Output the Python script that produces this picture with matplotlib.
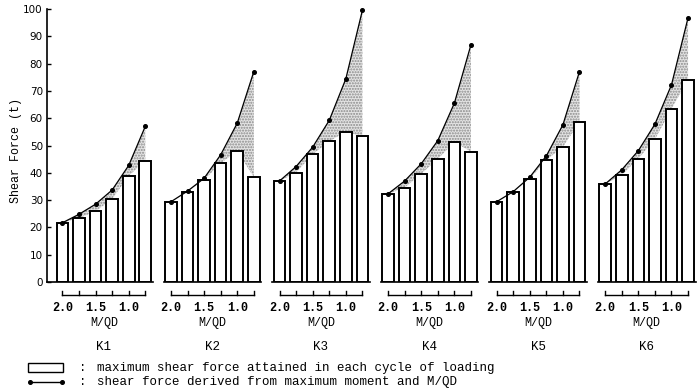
import matplotlib.pyplot as plt

# values (t)
specimens = ["K1", "K2", "K3", "K4", "K5", "K6"]
mqd_labels = ["2.0", "1.5", "1.0"]
bar_k1 = [21.7, 23.4, 25.9, 30.4, 38.9, 44.5]
bar_k2 = [29.4, 33.1, 37.4, 43.5, 48.0, 38.4]
bar_k3 = [37.0, 40.1, 46.8, 51.5, 55.1, 53.3]
bar_k4 = [32.3, 34.6, 39.6, 45.1, 51.2, 47.8]
bar_k5 = [29.4, 33.1, 37.8, 44.7, 49.5, 58.6]
bar_k6 = [35.9, 39.2, 45.2, 52.3, 63.4, 74.1]
curve_k1 = [21.7, 24.8, 28.5, 33.7, 42.7, 57.0]
curve_k2 = [29.4, 33.3, 38.0, 46.6, 58.2, 77.1]
curve_k3 = [37.0, 42.3, 49.4, 59.2, 74.4, 99.5]
curve_k4 = [32.3, 37.0, 43.3, 51.8, 65.5, 86.9]
curve_k5 = [29.4, 33.1, 38.4, 46.2, 57.6, 77.1]
curve_k6 = [35.9, 41.1, 48.1, 57.8, 72.2, 96.8]

bars = [bar_k1, bar_k2, bar_k3, bar_k4, bar_k5, bar_k6]
curves = [curve_k1, curve_k2, curve_k3, curve_k4, curve_k5, curve_k6]

mono = "Liberation Mono"
gstep = 6.55
bw = 0.7

fig = plt.figure(figsize=(6.97, 3.92), dpi=100)
ax = fig.add_axes([47/697, 110/392, 650/697, 273/392])
ax.set_xlim(-0.93, 38.29)
ax.set_ylim(0, 100)

for g in range(6):
    x0 = g*gstep
    xs = [x0 + i for i in range(6)]
    # stippled area between curve and bar tops
    ax.fill_between(xs, bars[g], curves[g], facecolor="#e4e4e4",
                    edgecolor="#8a8a8a", hatch="......", linewidth=0, zorder=1)
    ax.bar(xs, bars[g], width=bw, facecolor="white", edgecolor="black",
           linewidth=1.4, zorder=2)
    ax.plot(xs, curves[g], color="black", lw=0.9, marker="o", ms=2.6,
            zorder=3, clip_on=False)
    left = -0.93 if g == 0 else x0 - 0.45
    ax.plot([left, x0 + 5.45], [0, 0], color="black", lw=1.2, clip_on=False, zorder=4)
    # M/QD bracket
    ax.plot([xs[0], xs[-1]], [-4.8, -4.8], color="black", lw=1.0, clip_on=False)
    for x in xs:
        ax.plot([x, x], [-4.8, -3.4], color="black", lw=1.0, clip_on=False)
    for j, lab in enumerate(mqd_labels):
        ax.text(xs[2*j], -9.6, lab, ha="center", va="center", fontsize=8.5,
                family=mono, fontweight="bold")
    ax.text(x0 + 2.5, -15.0, "M/QD", ha="center", va="center", fontsize=8.5,
            family=mono)
    ax.text(x0 + 2.5, -23.9, specimens[g], ha="center", va="center", fontsize=9,
            family=mono)

for s in ["top", "right", "bottom"]:
    ax.spines[s].set_visible(False)
ax.spines["left"].set_linewidth(1.2)
ax.set_xticks([])
ax.set_yticks(range(0, 101, 10))
ax.tick_params(axis="y", direction="in", length=3, width=1, labelsize=7.5, pad=3)
ax.set_ylabel("Shear Force (t)", family=mono, fontsize=8.4)
ax.yaxis.set_label_coords(-0.038, 0.48)

# legend
fig.patches.append(plt.Rectangle((28/697, 20/392), 35/697, 9/392, transform=fig.transFigure,
                                 facecolor="white", edgecolor="black", lw=1.0))
fig.lines.append(plt.Line2D([30/697, 62/697], [10/392, 10/392], transform=fig.transFigure,
                            color="black", lw=1.0, marker="o", ms=2.6))
fig.text(79/697, 24/392, ":", family=mono, fontsize=9, va="center")
fig.text(79/697, 10/392, ":", family=mono, fontsize=9, va="center")
fig.text(97/697, 24/392, "maximum shear force attained in each cycle of loading",
         family=mono, fontsize=9, va="center")
fig.text(97/697, 10/392, "shear force derived from maximum moment and M/QD",
         family=mono, fontsize=9, va="center")

fig.savefig("out.png", dpi=100)
